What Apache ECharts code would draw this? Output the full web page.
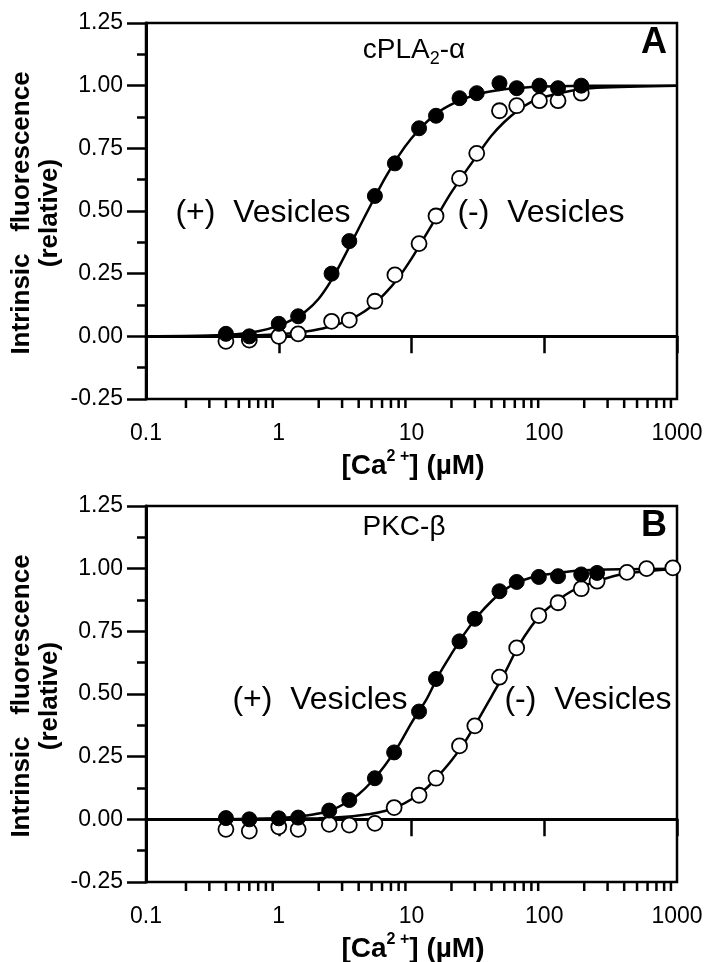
<!DOCTYPE html>
<html>
<head>
<meta charset="utf-8">
<script src="https://cdn.jsdelivr.net/npm/echarts@6/dist/echarts.min.js"></script>
<style>
html,body{margin:0;padding:0;background:#fff;}
#chart{width:711px;height:962px;}
</style>
</head>
<body>
<div id="chart"></div>
<script>
// ---------- tick labels ----------
const xTicks = [0.1, 1, 10, 100, 1000];
const xTickLabels = ['0.1', '1', '10', '100', '1000'];
const xMinorTicks = [0.2,0.3,0.4,0.5,0.6,0.7,0.8,0.9, 2,3,4,5,6,7,8,9, 20,30,40,50,60,70,80,90, 200,300,400,500,600,700,800,900];
const yTicks = [-0.25, 0, 0.25, 0.5, 0.75, 1, 1.25];
const yTickLabels = ['-0.25', '0.00', '0.25', '0.50', '0.75', '1.00', '1.25'];

// ---------- Panel A: cPLA2-alpha ----------
const concA  = [0.4, 0.6, 1.0, 1.4, 2.5, 3.4, 5.3, 7.5, 11.4, 15.3, 23, 31, 46, 62, 92, 127, 190];
const plusA  = [0.01, 0.0, 0.05, 0.08, 0.25, 0.38, 0.56, 0.69, 0.83, 0.88, 0.95, 0.97, 1.01, 0.99, 1.0, 0.99, 1.0];
const minusA = [-0.02, -0.015, 0.0, 0.01, 0.06, 0.065, 0.14, 0.245, 0.37, 0.48, 0.63, 0.73, 0.90, 0.92, 0.94, 0.94, 0.97];
// fitted curves
const fitXA      = [0.1, 0.3, 0.5, 0.7, 1, 1.3, 1.6, 2, 2.5, 3.2, 4, 5, 6.3, 8, 10, 13, 16, 20, 25, 32, 40, 50, 63, 80, 100, 160, 250, 1000];
const fitPlusAy  = [0, 0.003, 0.009, 0.02, 0.043, 0.07, 0.1, 0.15, 0.225, 0.33, 0.43, 0.53, 0.63, 0.72, 0.79, 0.855, 0.895, 0.925, 0.948, 0.967, 0.978, 0.986, 0.991, 0.995, 0.997, 0.999, 1.0, 1.0];
const fitMinusAy = [0, 0.001, 0.002, 0.004, 0.008, 0.013, 0.019, 0.028, 0.04, 0.06, 0.085, 0.12, 0.17, 0.235, 0.31, 0.41, 0.49, 0.575, 0.65, 0.73, 0.8, 0.855, 0.9, 0.935, 0.955, 0.98, 0.992, 1.0];

// ---------- Panel B: PKC-beta ----------
const concBplus  = [0.4, 0.6, 1.0, 1.4, 2.4, 3.4, 5.3, 7.4, 11.4, 15.3, 23, 30, 46, 62, 91, 127, 190, 250];
const plusB      = [0.005, 0.0, 0.004, 0.007, 0.035, 0.077, 0.164, 0.267, 0.43, 0.56, 0.71, 0.80, 0.91, 0.947, 0.967, 0.97, 0.977, 0.983];
const concBminus = [0.4, 0.6, 1.0, 1.4, 2.4, 3.4, 5.3, 7.4, 11.4, 15.3, 23, 30, 46, 62, 91, 127, 190, 250, 420, 590, 930];
const minusB     = [-0.04, -0.047, -0.03, -0.04, -0.02, -0.023, -0.016, 0.047, 0.096, 0.164, 0.293, 0.373, 0.567, 0.684, 0.813, 0.864, 0.92, 0.95, 0.985, 1.0, 1.003];
const fitXB      = [0.1, 0.3, 0.5, 0.7, 1, 1.3, 1.6, 2, 2.5, 3.2, 4, 5, 6.3, 8, 10, 13, 16, 20, 25, 32, 40, 50, 63, 80, 100, 160, 250, 400, 1000];
const fitPlusBy  = [0, 0, 0.001, 0.002, 0.005, 0.009, 0.015, 0.023, 0.037, 0.065, 0.1, 0.15, 0.215, 0.295, 0.385, 0.48, 0.575, 0.66, 0.74, 0.815, 0.87, 0.915, 0.945, 0.965, 0.976, 0.99, 0.996, 0.998, 1.0];
const fitMinusBy = [0, 0, 0, 0.001, 0.001, 0.002, 0.003, 0.004, 0.006, 0.01, 0.015, 0.022, 0.033, 0.053, 0.08, 0.125, 0.175, 0.235, 0.305, 0.4, 0.49, 0.58, 0.685, 0.77, 0.83, 0.91, 0.95, 0.98, 1.0];

const FONT = "'Liberation Sans', Arial, Helvetica, sans-serif";
const zip = (xs, ys) => xs.map((x, i) => [x, ys[i]]);

const chart = echarts.init(document.getElementById('chart'), null, {renderer: 'canvas'});

function xAxisFor(i) {
  return {
    type: 'log', logBase: 10, gridIndex: i, min: 0.1, max: 1000,
    axisLine: {show: true, lineStyle: {color: '#000', width: 3}},
    axisTick: {show: true, length: 17, lineStyle: {color: '#000', width: 2.5}},
    axisLabel: {
      color: '#000', fontSize: 23, fontFamily: FONT, margin: 23,
      formatter: v => { const k = xTicks.findIndex(t => Math.abs(Math.log10(t) - Math.log10(v)) < 1e-6); return k >= 0 ? xTickLabels[k] : ''; }
    },
    splitLine: {show: false}
  };
}
function yAxisFor(i) {
  return {
    type: 'value', gridIndex: i, min: -0.25, max: 1.25, interval: 0.25,
    axisLine: {show: true, lineStyle: {color: '#000', width: 3}},
    axisTick: {show: true, length: 19, lineStyle: {color: '#000', width: 2.5}},
    minorTick: {show: true, splitNumber: 2, length: 9, lineStyle: {color: '#000', width: 2.5}},
    axisLabel: {
      color: '#000', fontSize: 23, fontFamily: FONT, margin: 23,
      formatter: v => { const k = yTicks.findIndex(t => Math.abs(t - v) < 1e-9); return k >= 0 ? yTickLabels[k] : ''; }
    },
    splitLine: {show: false}
  };
}
function minorTickSeries(i) {
  return {
    type: 'custom', xAxisIndex: i, yAxisIndex: i, clip: false, silent: true, z: 5,
    data: xMinorTicks.map(v => [v, yTicks[0]]),
    renderItem: (params, api) => {
      const p = api.coord([api.value(0), api.value(1)]);
      return {type: 'line', shape: {x1: p[0], y1: p[1], x2: p[0], y2: p[1] + 9}, style: {stroke: '#000', lineWidth: 2.5}};
    }
  };
}
function fitLine(i, xs, ys) {
  return {type: 'line', xAxisIndex: i, yAxisIndex: i, data: zip(xs, ys), smooth: 0.3,
          showSymbol: false, silent: true, z: 2, lineStyle: {color: '#000', width: 2.5}};
}
function points(i, xs, ys, filled) {
  return {type: 'scatter', xAxisIndex: i, yAxisIndex: i, data: zip(xs, ys), symbol: 'circle', symbolSize: 15,
          silent: true, z: filled ? 4 : 3,
          itemStyle: filled ? {color: '#000', borderColor: '#000', borderWidth: 1, opacity: 1}
                            : {color: '#fff', borderColor: '#000', borderWidth: 1.8, opacity: 1}};
}

function txt(x, y, text, font, extra) {
  return Object.assign({type: 'text', x: x, y: y, silent: true, z: 10,
    style: Object.assign({text: text, font: font, fill: '#000', align: 'center', verticalAlign: 'middle'}, (extra && extra.style) || {})},
    extra && extra.el ? extra.el : {});
}

const graphics = [];
[0, 483].forEach((dy, i) => {
  // y-axis title (two lines, rotated)
  graphics.push(txt(22, 213 + dy, 'Intrinsic   fluorescence', 'bold 26px ' + FONT, {el: {rotation: Math.PI / 2}}));
  graphics.push(txt(50, 213 + dy, '(relative)', 'bold 26px ' + FONT, {el: {rotation: Math.PI / 2}}));
  // x-axis title with superscript
  graphics.push({type: 'text', x: 413, y: 466 + dy, silent: true, z: 10,
    style: {text: '{a|[Ca}{s|2 +}{a|] (µM)}', align: 'center', verticalAlign: 'middle', fill: '#000',
      rich: {a: {font: 'bold 28px ' + FONT, lineHeight: 34, verticalAlign: 'middle', fill: '#000'},
             s: {font: 'bold 16px ' + FONT, lineHeight: 17, verticalAlign: 'top', fill: '#000'}}}});
  // panel letter
  graphics.push(txt(654, 43 + dy, i === 0 ? 'A' : 'B', 'bold 36px ' + FONT));
});
// protein names
graphics.push({type: 'text', x: 414, y: 50, silent: true, z: 10,
  style: {text: '{a|cPLA}{s|2}{a|-α}', align: 'center', verticalAlign: 'middle', fill: '#000',
    rich: {a: {font: '28px ' + FONT, lineHeight: 36, verticalAlign: 'middle', fill: '#000'},
           s: {font: '18px ' + FONT, lineHeight: 18, verticalAlign: 'bottom', fill: '#000'}}}});
graphics.push(txt(404, 527, 'PKC-β', '28px ' + FONT));
// vesicle labels
graphics.push(txt(263, 213, '(+)  Vesicles', '32px ' + FONT));
graphics.push(txt(541, 213, '(-)  Vesicles', '32px ' + FONT));
graphics.push(txt(320, 700, '(+)  Vesicles', '32px ' + FONT));
graphics.push(txt(588, 700, '(-)  Vesicles', '32px ' + FONT));

chart.setOption({
  animation: false,
  backgroundColor: '#fff',
  grid: [
    {left: 146, top: 23, width: 531, height: 376, show: true, borderColor: '#000', borderWidth: 2.5, backgroundColor: 'transparent'},
    {left: 146, top: 506, width: 531, height: 376, show: true, borderColor: '#000', borderWidth: 2.5, backgroundColor: 'transparent'}
  ],
  xAxis: [xAxisFor(0), xAxisFor(1)],
  yAxis: [yAxisFor(0), yAxisFor(1)],
  series: [
    minorTickSeries(0), minorTickSeries(1),
    fitLine(0, fitXA, fitPlusAy), fitLine(0, fitXA, fitMinusAy),
    points(0, concA, minusA, false), points(0, concA, plusA, true),
    fitLine(1, fitXB, fitPlusBy), fitLine(1, fitXB, fitMinusBy),
    points(1, concBminus, minusB, false), points(1, concBplus, plusB, true)
  ],
  graphic: graphics
});
</script>
</body>
</html>
